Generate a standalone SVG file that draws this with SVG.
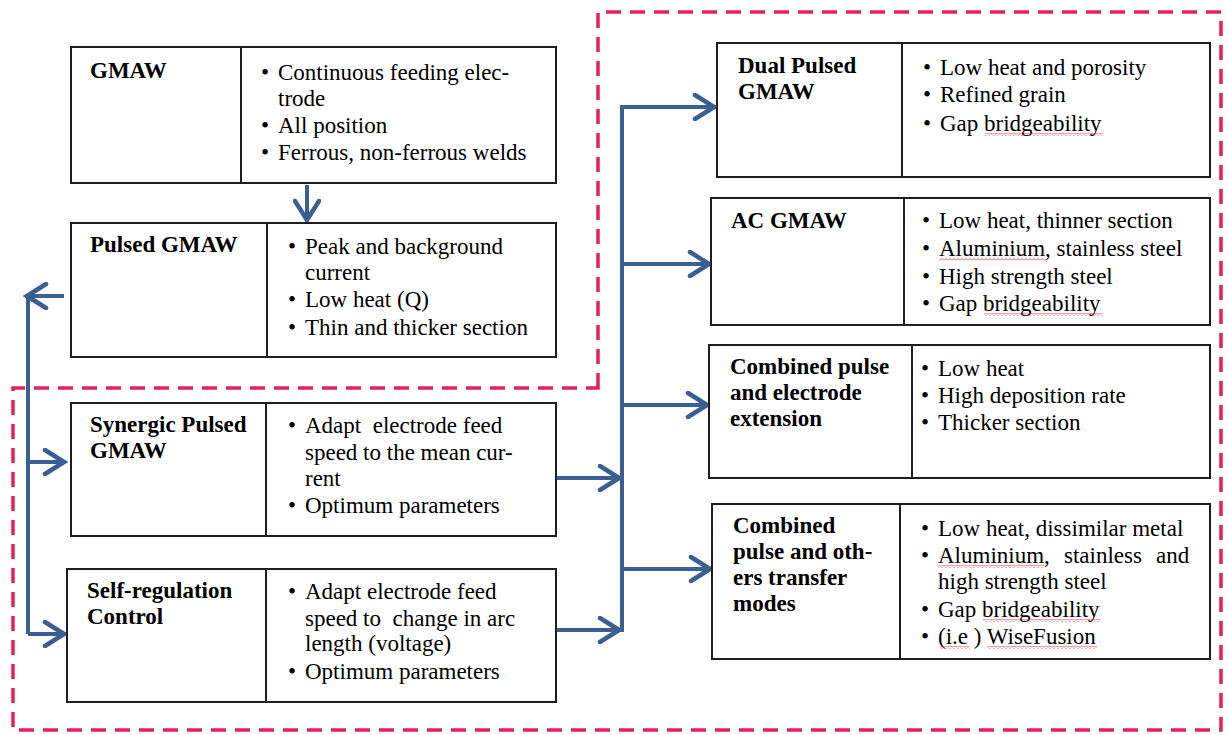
<svg xmlns="http://www.w3.org/2000/svg" width="1226" height="735" viewBox="0 0 1226 735">
<style>
.box{fill:#fff;stroke:#1e1e1e;stroke-width:2}
.div{stroke:#1e1e1e;stroke-width:2}
.con{fill:none;stroke:#3b5f93;stroke-width:4}
.dash{fill:none;stroke:#e8205a;stroke-width:3.5;stroke-dasharray:15 9}
.sq{fill:url(#squig)}
text{font-family:'Liberation Serif',serif;font-size:23px;fill:#000}
text.t{font-weight:bold}
</style>
<defs>
<marker id="ah" markerUnits="userSpaceOnUse" viewBox="0 0 26 28" markerWidth="26" markerHeight="28" refX="22" refY="14" orient="auto">
<path d="M3,2 L22,14 L3,26" fill="none" stroke="#3b5f93" stroke-width="4.5" stroke-linejoin="miter" stroke-linecap="round"/>
</marker>
<pattern id="squig" patternUnits="userSpaceOnUse" width="4" height="3">
<path d="M0,2.5 L2,0.5 L4,2.5" fill="none" stroke="#e0202a" stroke-width="0.8"/>
</pattern>
</defs>
<rect width="1226" height="735" fill="#fff"/>

<path class="dash" d="M598,388 L598,12 L1221,12 L1221,730 L13,730 L13,388 Z"/>

<g id="connectors">
<path class="con" d="M307,185 L307,220" marker-end="url(#ah)"/>
<path class="con" d="M64,296 L27,296" marker-end="url(#ah)"/>
<path class="con" d="M28,294 L28,634"/>
<path class="con" d="M28,462 L64,462" marker-end="url(#ah)"/>
<path class="con" d="M28,634 L64,634" marker-end="url(#ah)"/>
<path class="con" d="M556,478 L619,478" marker-end="url(#ah)"/>
<path class="con" d="M556,630 L619,630" marker-end="url(#ah)"/>
<path class="con" d="M622,632 L622,105"/>
<path class="con" d="M620,107 L714,107" marker-end="url(#ah)"/>
<path class="con" d="M622,264 L709,264" marker-end="url(#ah)"/>
<path class="con" d="M622,405 L707,405" marker-end="url(#ah)"/>
<path class="con" d="M622,569 L710,569" marker-end="url(#ah)"/>
</g>

<g id="gmaw">
<rect class="box" x="71" y="47" width="485" height="136"/>
<line class="div" x1="241" y1="47" x2="241" y2="183"/>
<text class="t" x="90" y="78">GMAW</text>
<text x="261" y="80">•</text>
<text x="278" y="80">Continuous feeding elec-</text>
<text x="278" y="106">trode</text>
<text x="261" y="133">•</text>
<text x="278" y="133">All position</text>
<text x="261" y="160">•</text>
<text x="278" y="160">Ferrous, non-ferrous welds</text>
</g>

<g id="pulsed-gmaw">
<rect class="box" x="71" y="223" width="485" height="134"/>
<line class="div" x1="267" y1="223" x2="267" y2="357"/>
<text class="t" x="90" y="252">Pulsed GMAW</text>
<text x="288" y="254">•</text>
<text x="305" y="254">Peak and background</text>
<text x="305" y="280">current</text>
<text x="288" y="307">•</text>
<text x="305" y="307">Low heat (Q)</text>
<text x="288" y="335">•</text>
<text x="305" y="335">Thin and thicker section</text>
</g>

<g id="synergic">
<rect class="box" x="71" y="403" width="485" height="133"/>
<line class="div" x1="266" y1="403" x2="266" y2="536"/>
<text class="t" x="90" y="432">Synergic Pulsed</text>
<text class="t" x="90" y="458">GMAW</text>
<text x="288" y="433">•</text>
<text x="305" y="433" xml:space="preserve">Adapt  electrode feed</text>
<text x="305" y="460">speed to the mean cur-</text>
<text x="305" y="486">rent</text>
<text x="288" y="513">•</text>
<text x="305" y="513">Optimum parameters</text>
</g>

<g id="self-regulation">
<rect class="box" x="67" y="569" width="489" height="133"/>
<line class="div" x1="266" y1="569" x2="266" y2="702"/>
<text class="t" x="87" y="598">Self-regulation</text>
<text class="t" x="87" y="624">Control</text>
<text x="288" y="599">•</text>
<text x="305" y="599">Adapt electrode feed</text>
<text x="305" y="626" xml:space="preserve">speed to  change in arc</text>
<text x="305" y="651">length (voltage)</text>
<text x="288" y="679">•</text>
<text x="305" y="679">Optimum parameters</text>
</g>

<g id="dual-pulsed">
<rect class="box" x="717" y="43" width="493" height="134"/>
<line class="div" x1="902" y1="43" x2="902" y2="177"/>
<text class="t" x="738" y="73">Dual Pulsed</text>
<text class="t" x="738" y="99">GMAW</text>
<text x="923" y="75">•</text>
<text x="940" y="75">Low heat and porosity</text>
<text x="923" y="102">•</text>
<text x="940" y="102">Refined grain</text>
<text x="923" y="131">•</text>
<text x="940" y="131">Gap bridgeability</text>
<rect class="sq" x="985" y="133" width="118" height="3"/>
</g>

<g id="ac-gmaw">
<rect class="box" x="711" y="198" width="499" height="127"/>
<line class="div" x1="904" y1="198" x2="904" y2="325"/>
<text class="t" x="731" y="228">AC GMAW</text>
<text x="922" y="228">•</text>
<text x="939" y="228">Low heat, thinner section</text>
<text x="922" y="256">•</text>
<text x="939" y="256">Aluminium, stainless steel</text>
<text x="922" y="284">•</text>
<text x="939" y="284">High strength steel</text>
<text x="922" y="311">•</text>
<text x="939" y="311">Gap bridgeability</text>
<rect class="sq" x="939" y="258" width="106" height="3"/>
<rect class="sq" x="984" y="313" width="118" height="3"/>
</g>

<g id="combined-extension">
<rect class="box" x="709" y="345" width="501" height="133"/>
<line class="div" x1="912" y1="345" x2="912" y2="478"/>
<text class="t" x="730" y="374">Combined pulse</text>
<text class="t" x="730" y="400">and electrode</text>
<text class="t" x="730" y="426">extension</text>
<text x="921" y="376">•</text>
<text x="938" y="376">Low heat</text>
<text x="921" y="403">•</text>
<text x="938" y="403">High deposition rate</text>
<text x="921" y="430">•</text>
<text x="938" y="430">Thicker section</text>
</g>

<g id="combined-others">
<rect class="box" x="712" y="504" width="498" height="155"/>
<line class="div" x1="900" y1="504" x2="900" y2="659"/>
<text class="t" x="733" y="533">Combined</text>
<text class="t" x="733" y="559">pulse and oth-</text>
<text class="t" x="733" y="585">ers transfer</text>
<text class="t" x="733" y="611">modes</text>
<text x="921" y="536">•</text>
<text x="938" y="536">Low heat, dissimilar metal</text>
<text x="921" y="563">•</text>
<text x="938" y="563">Aluminium,</text>
<text x="1064" y="563">stainless</text>
<text x="1156" y="563">and</text>
<text x="938" y="589">high strength steel</text>
<text x="921" y="617">•</text>
<text x="938" y="617">Gap bridgeability</text>
<text x="921" y="644">•</text>
<text x="938" y="644">(i.e ) WiseFusion</text>
<rect class="sq" x="938" y="565" width="106" height="3"/>
<rect class="sq" x="983" y="619" width="118" height="3"/>
<rect class="sq" x="940" y="646" width="30" height="3"/>
<rect class="sq" x="987" y="646" width="110" height="3"/>
</g>
</svg>
